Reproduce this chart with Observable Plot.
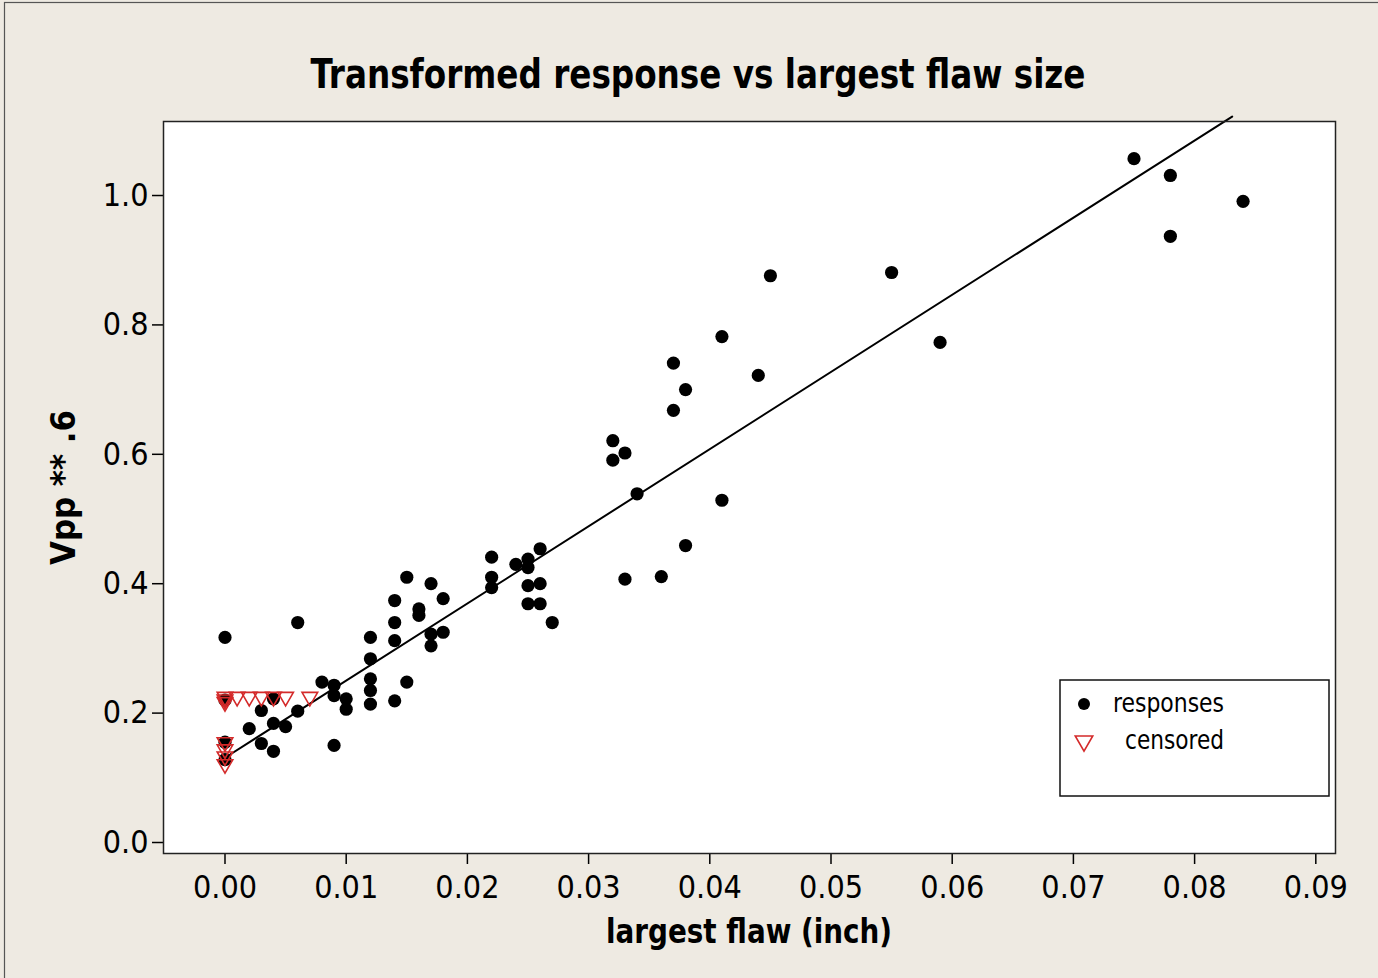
<!DOCTYPE html>
<html>
<head>
<meta charset="utf-8">
<script src="https://cdn.jsdelivr.net/npm/d3@7"></script>
<script src="https://cdn.jsdelivr.net/npm/@observablehq/plot@0.6"></script>
<style>
  html, body { margin: 0; padding: 0; background: #EEEAE2; }
  #chart svg { display: block; }
</style>
</head>
<body>
<div id="chart"></div>
<script>
// ---- data ----
const respX = [0, 0, 0, 0,
  0.002, 0.003, 0.003, 0.004, 0.004, 0.004, 0.005, 0.006, 0.006,
  0.008, 0.009, 0.009, 0.009, 0.010, 0.010,
  0.012, 0.012, 0.012, 0.012, 0.012,
  0.014, 0.014, 0.014, 0.014, 0.015, 0.015, 0.016, 0.016,
  0.017, 0.017, 0.017, 0.018, 0.018,
  0.022, 0.022, 0.022, 0.024, 0.025, 0.025, 0.025, 0.025,
  0.026, 0.026, 0.026, 0.027,
  0.032, 0.032, 0.033, 0.033, 0.034, 0.036, 0.037, 0.037, 0.038, 0.038,
  0.041, 0.041, 0.044, 0.045, 0.055, 0.059, 0.075, 0.078, 0.078, 0.084];
const respY = [0.317, 0.155, 0.128, 0.220,
  0.176, 0.204, 0.153, 0.141, 0.184, 0.222, 0.179, 0.340, 0.203,
  0.248, 0.243, 0.227, 0.150, 0.222, 0.206,
  0.317, 0.284, 0.253, 0.235, 0.214,
  0.374, 0.340, 0.312, 0.219, 0.410, 0.248, 0.361, 0.351,
  0.400, 0.322, 0.304, 0.377, 0.325,
  0.441, 0.410, 0.394, 0.430, 0.438, 0.425, 0.397, 0.369,
  0.454, 0.400, 0.369, 0.340,
  0.621, 0.591, 0.602, 0.407, 0.539, 0.411, 0.741, 0.668, 0.700, 0.459,
  0.782, 0.529, 0.722, 0.876, 0.881, 0.773, 1.057, 1.031, 0.937, 0.991];

const censX = [0, 0, 0, 0.001, 0.002, 0.003, 0.004, 0.005, 0.007, 0, 0, 0, 0];
const censY = [0.225, 0.221, 0.217, 0.225, 0.225, 0.225, 0.225, 0.225, 0.225, 0.155, 0.144, 0.133, 0.121];

const fitX = [0, 0.0831];
const fitY = [0.131, 1.122];

const xTicks = [0, 0.01, 0.02, 0.03, 0.04, 0.05, 0.06, 0.07, 0.08, 0.09];
const yTicks = [0, 0.2, 0.4, 0.6, 0.8, 1.0];

const titleText = "Transformed response vs largest flaw size";
const xLabel = "largest flaw (inch)";
const yLabel = "Vpp ** .6";
const legendLabels = ["responses", "censored"];

// ---- tables built from the arrays ----
const responses = respX.map((x, i) => ({x, y: respY[i]}));
const censored = censX.map((x, i) => ({x, y: censY[i]}));
const fit = fitX.map((x, i) => ({x, y: fitY[i]}));

// downward-pointing triangle symbol
const triDown = {
  draw(ctx, size) {
    const a = Math.sqrt(size * 4 / Math.sqrt(3));
    const h = a * Math.sqrt(3) / 2;
    ctx.moveTo(-a / 2, -h / 3);
    ctx.lineTo(a / 2, -h / 3);
    ctx.lineTo(0, 2 * h / 3);
    ctx.closePath();
  }
};

const RED = "#d42a2a";
const FONT = "'DejaVu Sans Condensed', 'DejaVu Sans', sans-serif";

const svg = Plot.plot({
  width: 1378,
  height: 978,
  marginLeft: 163,
  marginRight: 43,
  marginTop: 121,
  marginBottom: 125,
  style: {background: "#EEEAE2", fontFamily: FONT, fontSize: "31px", color: "black", overflow: "visible"},
  x: {domain: [-0.005074, 0.091625]},
  y: {domain: [-0.017, 1.1144]},
  marks: [
    Plot.frame({fill: "white"}),
    Plot.axisX({ticks: xTicks, tickFormat: d3.format(".2f"), tickSize: 11, tickPadding: 11, label: null, strokeWidth: 1.5, fontSize: 32}),
    Plot.axisY({ticks: yTicks, tickFormat: d3.format(".1f"), tickSize: 11, tickPadding: 4, label: null, strokeWidth: 1.5, fontSize: 32}),
    Plot.line(fit, {x: "x", y: "y", stroke: "black", strokeWidth: 2}),
    Plot.dot(responses, {x: "x", y: "y", r: 6.6, fill: "black"}),
    Plot.dot(censored, {x: "x", y: "y", r: 5.8, symbol: triDown, fill: "none", stroke: RED, strokeWidth: 1.6}),
    Plot.frame({stroke: "#222", strokeWidth: 1.5})
  ]
});

document.getElementById("chart").appendChild(svg);

const s = d3.select(svg);

// outer border (left/top visible)
s.append("rect")
  .attr("x", 4.5).attr("y", 2.5).attr("width", 1390).attr("height", 990)
  .attr("fill", "none").attr("stroke", "#555").attr("stroke-width", 1.2);

// title
s.append("text")
  .attr("x", 698).attr("y", 88)
  .attr("text-anchor", "middle")
  .attr("font-family", FONT).attr("font-weight", "bold").attr("font-size", 40)
  .attr("textLength", 775).attr("lengthAdjust", "spacingAndGlyphs")
  .attr("fill", "black")
  .text(titleText);

// x label
s.append("text")
  .attr("x", 749).attr("y", 943)
  .attr("text-anchor", "middle")
  .attr("font-family", FONT).attr("font-weight", "bold").attr("font-size", 34)
  .attr("textLength", 286).attr("lengthAdjust", "spacingAndGlyphs")
  .attr("fill", "black")
  .text(xLabel);

// y label
s.append("text")
  .attr("transform", "translate(75,487.5) rotate(-90)")
  .attr("text-anchor", "middle")
  .attr("font-family", FONT).attr("font-weight", "bold").attr("font-size", 33)
  .attr("textLength", 155).attr("lengthAdjust", "spacingAndGlyphs")
  .attr("fill", "black")
  .text(yLabel);

// legend
const lg = s.append("g").attr("text-anchor", "start");
lg.append("rect")
  .attr("x", 1060).attr("y", 680).attr("width", 269).attr("height", 116)
  .attr("fill", "white").attr("stroke", "#111").attr("stroke-width", 1.5);
lg.append("circle").attr("cx", 1084).attr("cy", 704).attr("r", 6).attr("fill", "black");
lg.append("path")
  .attr("transform", "translate(1084,741)")
  .attr("d", d3.symbol(triDown, Math.PI * 6.5 * 6.5)())
  .attr("fill", "none").attr("stroke", RED).attr("stroke-width", 1.6);
lg.append("text")
  .attr("x", 1113).attr("y", 712)
  .attr("text-anchor", "start")
  .attr("font-family", FONT).attr("font-size", 27)
  .attr("textLength", 111).attr("lengthAdjust", "spacingAndGlyphs")
  .attr("fill", "black")
  .text(legendLabels[0]);
lg.append("text")
  .attr("x", 1125).attr("y", 749)
  .attr("text-anchor", "start")
  .attr("font-family", FONT).attr("font-size", 27)
  .attr("textLength", 99).attr("lengthAdjust", "spacingAndGlyphs")
  .attr("fill", "black")
  .text(legendLabels[1]);
</script>
</body>
</html>
